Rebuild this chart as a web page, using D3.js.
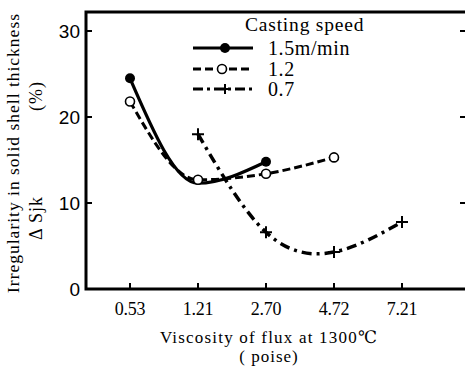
<!DOCTYPE html>
<html>
<head>
<meta charset="utf-8">
<script src="https://cdn.jsdelivr.net/npm/d3@7"></script>
<style>
  body { margin: 0; background: #fff; }
  svg { display: block; font-family: "Liberation Serif", "DejaVu Serif", serif; }
</style>
</head>
<body>
<div id="content"></div>
<script>
// viscosity categories (poise) on the x axis
var viscosity = ['0.53', '1.21', '2.70', '4.72', '7.21'];
var yTicks = [0, 10, 20, 30];

// irregularity values (%) per casting speed, x given as category index
var fastX = [0, 1, 2];
var fastY = [24.5, 12.3, 14.8];
var midX = [0, 1, 2, 3];
var midY = [21.8, 12.7, 13.4, 15.3];
var slowX = [1, 2, 3, 4];
var slowY = [18.0, 6.6, 4.3, 7.8];

var speeds = ['1.5m/min', '1.2', '0.7'];

var width = 465, height = 372;

var svg = d3.select("#content")
  .append("svg")
  .attr("width", width)
  .attr("height", height);

var plotLeft = 86, plotTop = 12, plotBottom = 289;

var x = d3.scaleLinear().domain([0, 4]).range([130, 402]);
var y = d3.scaleLinear().domain([0, 30]).range([plotBottom, 31]);

// frame (right side runs off the picture)
svg.append("path")
  .attr("d", "M" + width + "," + plotTop + "H" + plotLeft + "V" + plotBottom + "H" + width)
  .attr("fill", "none")
  .attr("stroke", "#000")
  .attr("stroke-width", 3);

// y ticks (inward) and labels
svg.selectAll(".ytick")
  .data(yTicks.filter(d => d > 0))
  .join("line")
  .attr("x1", plotLeft).attr("x2", plotLeft + 6)
  .attr("y1", d => y(d)).attr("y2", d => y(d))
  .attr("stroke", "#000").attr("stroke-width", 2);

// little marks at the right edge (from the cut-off right axis)
svg.selectAll(".rtick")
  .data(yTicks.filter(d => d > 0))
  .join("line")
  .attr("x1", width - 5).attr("x2", width)
  .attr("y1", d => y(d)).attr("y2", d => y(d))
  .attr("stroke", "#000").attr("stroke-width", 2);

svg.selectAll(".ylab")
  .data(yTicks)
  .join("text")
  .attr("x", 80)
  .attr("y", d => y(d) + 7)
  .attr("text-anchor", "end")
  .attr("font-size", 19)
  .attr("font-family", "Liberation Sans Narrow, Liberation Sans, sans-serif")
  .text(d => d);

// x ticks (inward) and labels
svg.selectAll(".xtick")
  .data(viscosity)
  .join("line")
  .attr("x1", (d, i) => x(i)).attr("x2", (d, i) => x(i))
  .attr("y1", plotBottom).attr("y2", plotBottom - 6)
  .attr("stroke", "#000").attr("stroke-width", 2);

svg.selectAll(".xlab")
  .data(viscosity)
  .join("text")
  .attr("x", (d, i) => x(i))
  .attr("y", 315)
  .attr("text-anchor", "middle")
  .attr("font-size", 18)
  .attr("letter-spacing", -0.3)
  .text(d => d);

// axis titles
svg.append("text")
  .attr("x", 269).attr("y", 343)
  .attr("text-anchor", "middle")
  .attr("font-size", 17)
  .attr("letter-spacing", 1.2)
  .text("Viscosity of flux at 1300\u2103");
svg.append("text")
  .attr("x", 269).attr("y", 362)
  .attr("text-anchor", "middle")
  .attr("font-size", 17)
  .attr("letter-spacing", 1)
  .text("( poise)");

svg.append("text")
  .attr("transform", "translate(19,153) rotate(-90)")
  .attr("text-anchor", "middle")
  .attr("font-size", 17.5)
  .attr("letter-spacing", 1)
  .text("Irregularity in solid shell thickness");
svg.append("text")
  .attr("transform", "translate(42,218) rotate(-90)")
  .attr("text-anchor", "middle")
  .attr("font-size", 18)
  .attr("letter-spacing", 1)
  .text("\u0394 Sjk");
svg.append("text")
  .attr("transform", "translate(42,96) rotate(-90)")
  .attr("text-anchor", "middle")
  .attr("font-size", 18)
  .attr("letter-spacing", 1)
  .text("(%)");

// curves
var line = d3.line().x(d => x(d[0])).y(d => y(d[1]));

var fast = d3.zip(fastX, fastY);
var mid = d3.zip(midX, midY);
var slow = d3.zip(slowX, slowY);

svg.append("path")
  .datum(slow)
  .attr("d", line.curve(d3.curveNatural))
  .attr("fill", "none").attr("stroke", "#000")
  .attr("stroke-width", 3.5)
  .attr("stroke-dasharray", "10,5,3,5");

svg.append("path")
  .datum(mid)
  .attr("d", line.curve(d3.curveMonotoneX))
  .attr("fill", "none").attr("stroke", "#000")
  .attr("stroke-width", 3)
  .attr("stroke-dasharray", "8,4");

svg.append("path")
  .datum(fast)
  .attr("d", line.curve(d3.curveMonotoneX))
  .attr("fill", "none").attr("stroke", "#000")
  .attr("stroke-width", 3.2);

// markers
function plus(g, px, py, s) {
  g.append("path")
    .attr("d", "M" + (px - s) + "," + py + "H" + (px + s) + "M" + px + "," + (py - s) + "V" + (py + s))
    .attr("stroke", "#000").attr("stroke-width", 2).attr("fill", "none");
}

svg.selectAll(".fastDot")
  .data(fast.filter(d => d[0] != 1))
  .join("circle")
  .attr("cx", d => x(d[0])).attr("cy", d => y(d[1]))
  .attr("r", 5).attr("fill", "#000");

svg.selectAll(".midDot")
  .data(mid)
  .join("circle")
  .attr("cx", d => x(d[0])).attr("cy", d => y(d[1]))
  .attr("r", 4.5).attr("fill", "#fff")
  .attr("stroke", "#000").attr("stroke-width", 1.6);

slow.forEach(d => plus(svg, x(d[0]), y(d[1]), 6));

// legend
var lg = svg.append("g");
lg.append("text")
  .attr("x", 245).attr("y", 31)
  .attr("font-size", 19.5)
  .attr("letter-spacing", 0.8)
  .text("Casting speed");

var legY = [48, 69, 89];
var legDash = [null, "8,4", "10,4,3,4"];
speeds.forEach(function(s, i) {
  lg.append("line")
    .attr("x1", 193).attr("x2", 253)
    .attr("y1", legY[i]).attr("y2", legY[i])
    .attr("stroke", "#000").attr("stroke-width", 3)
    .attr("stroke-dasharray", legDash[i]);
  lg.append("text")
    .attr("x", 268).attr("y", legY[i] + 7)
    .attr("font-size", 20)
    .attr("letter-spacing", 0.6)
    .text(s);
});
lg.append("circle").attr("cx", 225).attr("cy", legY[0]).attr("r", 5).attr("fill", "#000");
lg.append("circle").attr("cx", 222).attr("cy", legY[1]).attr("r", 4.5)
  .attr("fill", "#fff").attr("stroke", "#000").attr("stroke-width", 1.6);
plus(lg, 225, legY[2], 5);
</script>
</body>
</html>
